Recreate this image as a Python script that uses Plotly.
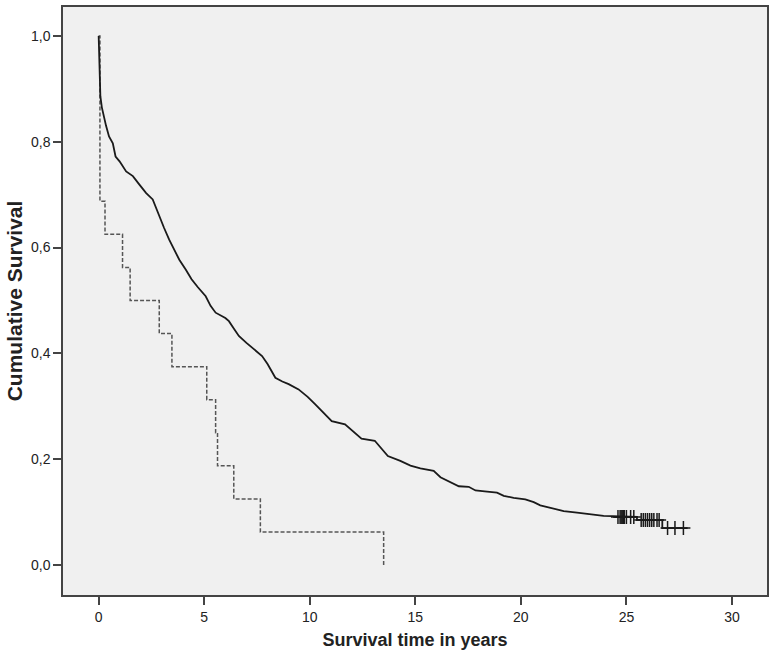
import plotly.graph_objects as go

# solid curve: Kaplan-Meier estimate, main group
main_time = [0, 0.02, 0.05, 0.08, 0.15, 0.24, 0.35, 0.49, 0.67, 0.8, 0.99,
             1.3, 1.62, 1.93, 2.25, 2.56, 2.87, 3.1, 3.34, 3.6, 3.82, 4.13,
             4.4, 4.7, 5.07, 5.3, 5.54, 6.0, 6.17, 6.4, 6.64, 7.0, 7.27,
             7.74, 8.0, 8.37, 8.7, 9.0, 9.47, 9.9, 10.25, 10.6, 11.04, 11.67,
             12.0, 12.45, 13.08, 13.4, 13.7, 14.29, 14.77, 15.24, 15.87,
             16.19, 16.66, 17.06, 17.53, 17.85, 18.4, 18.87, 19.19, 19.66,
             20.21, 20.61, 20.92, 21.55, 22.03, 22.66, 23.45, 23.92, 25.5,
             25.5, 26.7, 26.7, 27.9]
main_surv = [1.0, 0.95, 0.91, 0.886, 0.865, 0.848, 0.83, 0.81, 0.797, 0.772,
             0.763, 0.744, 0.735, 0.719, 0.703, 0.691, 0.659, 0.637, 0.615,
             0.595, 0.577, 0.558, 0.54, 0.525, 0.508, 0.49, 0.477, 0.467,
             0.461, 0.447, 0.433, 0.42, 0.411, 0.395, 0.38, 0.354, 0.347,
             0.342, 0.332, 0.318, 0.304, 0.29, 0.272, 0.266, 0.255, 0.239,
             0.235, 0.22, 0.206, 0.197, 0.188, 0.183, 0.178, 0.166, 0.157,
             0.149, 0.148, 0.141, 0.139, 0.137, 0.131, 0.127, 0.124, 0.119,
             0.113, 0.107, 0.102, 0.099, 0.096, 0.093, 0.091, 0.085, 0.085,
             0.07, 0.07]

# censored observations on the solid curve
cens_time = [24.6, 24.7, 24.75, 24.8, 24.85, 24.9, 25.0, 25.2, 25.35,
             25.7, 25.8, 25.9, 26.0, 26.1, 26.2, 26.3, 26.45, 26.55,
             26.95, 27.3, 27.7]
cens_surv = [0.091] * 9 + [0.085] * 9 + [0.07] * 3

# dashed curve: small group
small_time = [0, 0.06, 0.3, 1.13, 1.49, 2.87, 3.47, 5.12, 5.54, 5.63, 6.4,
              7.66, 13.5]
small_surv = [1.0, 0.6875, 0.625, 0.5625, 0.5, 0.4375, 0.375, 0.3125, 0.25,
              0.1875, 0.125, 0.0625, 0.0]

fig = go.Figure()

fig.add_trace(go.Scatter(
    x=small_time, y=small_surv,
    mode='lines', line=dict(color='#555555', width=1.5, dash='4px,2px', shape='hv'),
    hoverinfo='skip'
))

fig.add_trace(go.Scatter(
    x=main_time, y=main_surv,
    mode='lines', line=dict(color='#1a1a1a', width=1.8),
    hoverinfo='skip'
))

fig.add_trace(go.Scatter(
    x=cens_time, y=cens_surv,
    mode='markers',
    marker=dict(symbol='cross-thin', size=10, line=dict(color='#1a1a1a', width=1.5)),
    hoverinfo='skip'
))

axis_style = dict(
    showline=True, linecolor='#444444', linewidth=1.5, mirror=True,
    ticks='outside', ticklen=8, tickwidth=1.5, tickcolor='#444444',
    showgrid=False, zeroline=False,
    tickfont=dict(family='Liberation Sans, Arial', size=14, color='#222222'),
)

fig.update_layout(
    width=774, height=659,
    margin=dict(l=63, r=7, t=5, b=64),
    paper_bgcolor='white', plot_bgcolor='#f0f0f0',
    showlegend=False,
    separators=',.',
    font=dict(family='Liberation Sans, Arial', color='#222222'),
    xaxis=dict(axis_style, range=[-1.69, 31.66], tickvals=[0, 5, 10, 15, 20, 25, 30],
               title=dict(text='<b>Survival time in years</b>', font=dict(size=18), standoff=10)),
    yaxis=dict(axis_style, range=[-0.0565, 1.0546], tickvals=[0, 0.2, 0.4, 0.6, 0.8, 1.0],
               tickformat='.1f',
               title=dict(text='<b>Cumulative Survival</b>', font=dict(size=21), standoff=3)),
)

# drop the default 8px page margin so the figure sits at the window's corner
fig.write_html("out.html", config={'displayModeBar': False},
               post_script="document.body.style.margin='0px';")
